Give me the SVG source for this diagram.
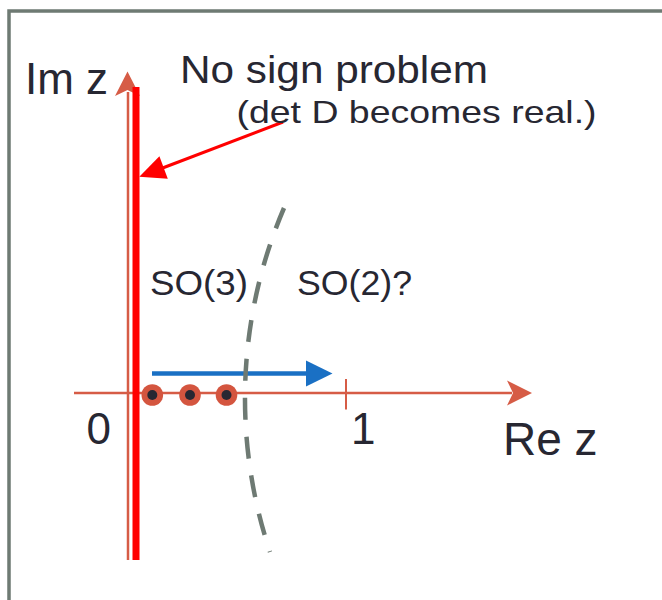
<svg xmlns="http://www.w3.org/2000/svg" width="662" height="600" viewBox="0 0 662 600">
<style>
.t{font-family:"Liberation Sans",Arial,sans-serif;fill:#272732}
.ax{stroke:#d65c46;fill:none}
.axh{fill:#d65c46}
.dot{fill:#d4553f}
.dotc{fill:#272732}
</style>
<rect x="0" y="0" width="662" height="600" fill="#ffffff"/>
<rect id="frame" x="9" y="11" width="720" height="700" fill="none" stroke="#6e7a73" stroke-width="3.5"/>
<g id="connectors">
  <line class="ax" x1="74" y1="393" x2="512" y2="393" stroke-width="2.5"/>
  <path class="axh" d="M532 393 L507 380.5 L513 393 L507 405.5 Z"/>
  <line class="ax" x1="346" y1="379" x2="346" y2="409.5" stroke-width="2"/>
  <line class="ax" x1="128" y1="92" x2="128" y2="560" stroke-width="2.5"/>
  <path class="axh" d="M127.5 71.5 L115 96 L127.5 90 L140 96 Z"/>
  <rect x="132.5" y="87" width="7" height="473" fill="#ff0000"/>
  <line x1="283" y1="122" x2="160" y2="169" stroke="#ff0000" stroke-width="3"/>
  <path d="M139.3 176.7 L159.4 156.3 L167.8 178.7 Z" fill="#ff0000"/>
  <line x1="152" y1="373.5" x2="310" y2="373.5" stroke="#1a70c4" stroke-width="4.5"/>
  <path d="M332.5 373.5 L306 360.5 L306 386.5 Z" fill="#1a70c4"/>
  <path d="M284 208 A484 484 0 0 0 270 552" fill="none" stroke="#6e7a73" stroke-width="4.5" stroke-dasharray="22 17"/>
</g>
<g id="dot1"><circle class="dot" cx="152.3" cy="395" r="10.8"/><circle class="dotc" cx="152.3" cy="395" r="5"/></g>
<g id="dot2"><circle class="dot" cx="190" cy="395" r="10.8"/><circle class="dotc" cx="190" cy="395" r="5"/></g>
<g id="dot3"><circle class="dot" cx="226.5" cy="395" r="10.8"/><circle class="dotc" cx="226.5" cy="395" r="5"/></g>
<g id="labels">
  <text class="t" x="25" y="93.5" font-size="44">Im z</text>
  <text class="t" x="180" y="82.7" font-size="38" textLength="308" lengthAdjust="spacingAndGlyphs">No sign problem</text>
  <text class="t" x="236.5" y="123.3" font-size="32" textLength="360" lengthAdjust="spacingAndGlyphs">(det D becomes real.)</text>
  <text class="t" x="150" y="295" font-size="35" textLength="98" lengthAdjust="spacingAndGlyphs">SO(3)</text>
  <text class="t" x="297" y="295" font-size="35" textLength="115" lengthAdjust="spacingAndGlyphs">SO(2)?</text>
  <text class="t" x="86.5" y="444" font-size="44">0</text>
  <text class="t" x="351" y="444" font-size="44">1</text>
  <text class="t" x="503" y="455" font-size="46">Re z</text>
</g>
</svg>
